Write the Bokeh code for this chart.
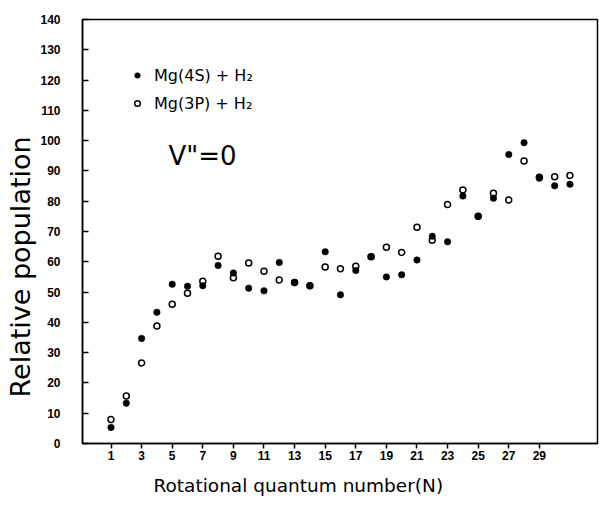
from bokeh.plotting import figure
from bokeh.models import Legend, LegendItem, Label, Range1d, FixedTicker, ColumnDataSource, Title
from bokeh.embed import file_html
from bokeh.resources import INLINE

# Rotational quantum number N
N = list(range(1, 32))
# Mg(4S) + H2 (filled circles)
mg4s = [5.3, 13.3, 34.7, 43.3, 52.6, 51.9, 52.1, 58.8, 56.3, 51.3, 50.4, 59.8, 53.2, 52.1,
        63.3, 49.1, 57.1, 61.7, 55.0, 55.7, 60.6, 68.4, 66.6, 81.7, 75.0, 81.0, 95.4, 99.3,
        87.6, 85.1, 85.6]
# Mg(3P) + H2 (open circles)
mg3p = [7.9, 15.7, 26.6, 38.8, 46.0, 49.6, 53.6, 61.8, 54.7, 59.6, 56.9, 54.0, 53.2, 52.1,
        58.3, 57.7, 58.5, 61.7, 64.8, 63.1, 71.4, 67.1, 78.9, 83.7, 75.0, 82.6, 80.4, 93.3,
        87.9, 88.1, 88.5]
x_ticks = list(range(1, 30, 2))
y_ticks = list(range(0, 141, 10))
labels = ["Mg(4S) + H\u2082", "Mg(3P) + H\u2082"]
annotation = 'V"=0'
x_title = "Rotational quantum number(N)"
y_title = "Relative population"

src = ColumnDataSource(dict(N=N, a=mg4s, b=mg3p))

p = figure(width=599, height=506, output_backend="svg", toolbar_location=None,
           x_range=Range1d(-0.863, 32.8), y_range=Range1d(0, 140),
           min_border_left=82, min_border_right=2, min_border_top=19, min_border_bottom=63)
p.background_fill_color = "white"
p.border_fill_color = "white"
p.xgrid.visible = False
p.ygrid.visible = False
p.outline_line_color = "black"
p.outline_line_width = 1.5

r_open = p.scatter("N", "b", source=src, size=6, marker="circle", fill_color="white",
                   line_color="black", line_width=1.5)
r_fill = p.scatter("N", "a", source=src, size=6.5, marker="circle", fill_color="black",
                   line_color="black", line_width=0.5)

tick_font = "Liberation Sans"
p.xaxis.ticker = FixedTicker(ticks=x_ticks)
p.yaxis.ticker = FixedTicker(ticks=y_ticks)
for ax in (p.xaxis[0], p.yaxis[0]):
    ax.axis_line_width = 1.5
    ax.axis_line_color = "black"
    ax.major_tick_line_width = 1.5
    ax.major_tick_line_color = "black"
    ax.minor_tick_line_color = None
    ax.major_label_text_font = tick_font
    ax.major_label_text_font_size = "12px"
    ax.major_label_text_font_style = "bold"
    ax.major_label_text_color = "black"

p.xaxis.major_tick_in = 0
p.xaxis.major_tick_out = 5
p.xaxis.major_label_standoff = 2

p.yaxis.major_tick_in = 6
p.yaxis.major_tick_out = 0
p.yaxis.major_label_standoff = 22

p.add_layout(Title(text=x_title, align="left", offset=71, standoff=20,
                   text_font="DejaVu Sans", text_font_size="18.5px",
                   text_font_style="normal", text_color="black"), "below")
p.add_layout(Title(text=y_title, align="left", offset=46, standoff=4,
                   text_font="DejaVu Sans", text_font_size="27px",
                   text_font_style="normal", text_color="black"), "left")

legend = Legend(items=[LegendItem(label=labels[0], renderers=[r_fill]),
                       LegendItem(label=labels[1], renderers=[r_open])],
                location=(48, 330), padding=0, margin=0, spacing=8,
                glyph_width=14, glyph_height=20, label_height=20, label_standoff=10,
                label_text_font="DejaVu Sans", label_text_font_size="16px",
                label_text_color="black",
                background_fill_alpha=0, border_line_alpha=0)
p.add_layout(legend)

lab = Label(x=86, y=288, x_units="screen", y_units="screen", text=annotation,
            text_font="DejaVu Sans", text_font_size="26px", text_baseline="middle",
            text_color="black")
p.add_layout(lab)

open("out.html", "w").write(file_html(p, INLINE))
